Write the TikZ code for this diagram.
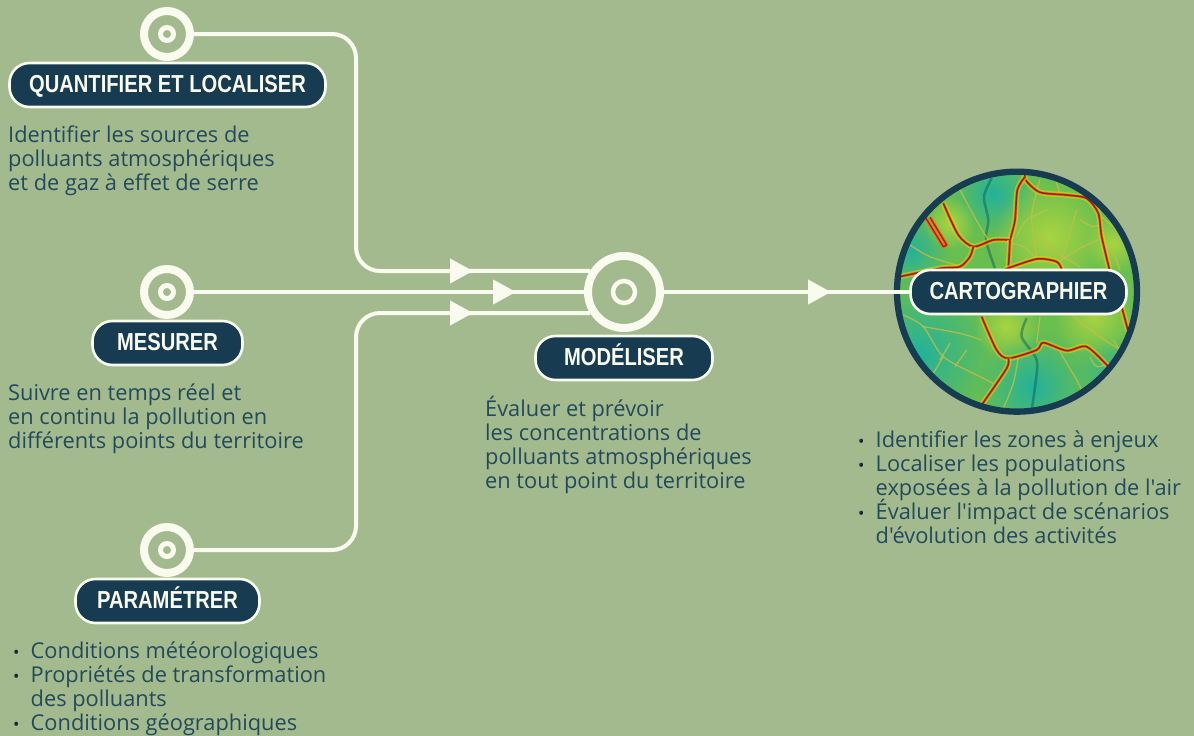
\documentclass[tikz,border=0pt]{standalone}
\usepackage{fontspec}
\newfontfamily\corpsfont{Open Sans}
\newfontfamily\titrefont[FakeStretch=0.82]{Liberation Sans}
\usetikzlibrary{arrows.meta,fadings}
\setlength{\normallineskiplimit}{-20pt}
\setlength{\lineskiplimit}{-20pt}
\definecolor{fond}{HTML}{A2BA8D}
\definecolor{creme}{HTML}{FAFBEF}
\definecolor{marine}{HTML}{173B50}
\definecolor{texte}{HTML}{234A5C}
\definecolor{vert}{RGB}{105,190,80}
\definecolor{clair}{RGB}{170,212,65}
\definecolor{lagon}{RGB}{35,178,155}
\definecolor{rouille}{RGB}{165,25,25}
\definecolor{olive}{RGB}{195,190,70}
\tikzfading[name=tache,inner color=transparent!0,outer color=transparent!100]
\tikzset{
 titre/.style={draw=creme,line width=2.6pt,fill=marine,rounded corners=20pt,minimum height=44pt,inner sep=0pt,text=creme,text height=14.5pt,text depth=0pt,font=\titrefont\bfseries\fontsize{24.6}{28}\selectfont},
 bague/.style={circle,draw=creme,line width=8pt,fill=fond,minimum size=46pt,inner sep=0pt},
 oeil/.style={circle,draw=creme,line width=5pt,minimum size=13pt,inner sep=0pt},
 flux/.style={draw=creme,line width=4pt},
 fleche/.style={flux,-{Triangle[length=23pt,width=24pt,fill=creme]}},
 corps/.style={anchor=north west,align=left,inner sep=0pt,text=texte,font=\corpsfont\fontsize{21.8}{23.85}\selectfont},
 tache/.style={path fading=tache,fit fading=true}
}
\newcommand{\puce}{\makebox[22.5pt][l]{\hspace*{5pt}\textcolor{marine!70!black}{\fontsize{17}{17}\selectfont\textbullet}}}
\newcommand{\suite}{\hspace*{22.5pt}}
% axe principal : halo, orange, coeur rouge
\newcommand{\route}[1]{
 \draw[line width=5.5pt,yellow!80!green,opacity=0.55] plot[smooth,tension=0.45] coordinates {#1};
 \draw[line width=2.8pt,orange!75!red,opacity=0.8] plot[smooth,tension=0.45] coordinates {#1};
 \draw[line width=1.5pt,rouille] plot[smooth,tension=0.45] coordinates {#1};
}
% route secondaire
\newcommand{\ruelle}[1]{
 \draw[line width=1.3pt,olive,opacity=0.8] plot[smooth,tension=0.5] coordinates {#1};
}
\begin{document}
\begin{tikzpicture}[x=1pt,y=-1pt]
 \useasboundingbox[fill=fond] (0,0) rectangle (1194,736);
 % la carte
 \begin{scope}[shift={(880,160)},x=0.3333pt,y=-0.3333pt]
  \begin{scope}
   \clip (411,395) circle (362);
   \fill[vert] (0,0) rectangle (800,800);
   \fill[lagon,tache] (340,100) circle (130);
   \fill[lagon,tache] (90,270) circle (120);
   \fill[lagon,tache] (120,580) circle (220);
   \fill[lagon,tache] (460,680) circle (170);
   \fill[lagon!70!vert,tache] (690,640) circle (120);
   \fill[clair,tache] (510,230) circle (170);
   \fill[clair,tache] (640,470) circle (120);
   \fill[clair,tache] (210,190) circle (80);
   \fill[clair,tache] (380,500) circle (100);
   \fill[clair,tache] (700,250) circle (90);
   % cours d'eau
   \draw[line width=2.5pt,teal!70!black,opacity=0.45] plot[smooth] coordinates {(335,55) (312,110) (325,180) (318,240) (345,325)};
   \draw[line width=2.5pt,teal!70!black,opacity=0.45] plot[smooth] coordinates {(440,475) (425,530) (470,600) (465,680) (455,750)};
   % petites routes
   \ruelle{(665,235) (600,265) (545,300)}
   \ruelle{(480,60) (455,170) (470,290)}
   \ruelle{(240,90) (300,200) (330,245)}
   \ruelle{(395,250) (430,260) (470,295)}
   \ruelle{(590,150) (560,250) (545,300)}
   \ruelle{(700,200) (665,170)}
   \ruelle{(540,100) (520,40)}
   \ruelle{(90,255) (150,290) (245,320)}
   \ruelle{(480,230) (520,270) (600,320)}
   \ruelle{(720,330) (700,280) (665,240)}
   \ruelle{(410,230) (440,180) (500,150)}
   \ruelle{(600,180) (640,200) (665,190)}
   \ruelle{(70,465) (130,500) (190,590) (300,650) (340,670)}
   \ruelle{(130,500) (240,520) (305,540)}
   \ruelle{(190,590) (160,640)}
   \ruelle{(210,550) (180,600)}
   \ruelle{(260,570) (225,620)}
   \ruelle{(415,590) (400,670) (370,745)}
   \ruelle{(540,575) (590,660) (610,700)}
   \ruelle{(580,470) (660,530) (720,570)}
   \ruelle{(480,470) (470,550)}
   \ruelle{(630,590) (650,620) (690,610)}
   \ruelle{(120,640) (200,680) (280,730)}
   \ruelle{(700,540) (720,570) (745,590)}
   % grands axes
   \route{(435,40) (438,62) (480,97) (560,105) (620,115) (655,160) (665,230) (690,335)}
   \route{(725,440) (745,515)}
   \route{(435,50) (412,90) (405,180) (390,240)}
   \route{(390,240) (340,240) (280,260) (235,225) (190,130)}
   \route{(280,260) (270,290) (240,320) (180,325) (60,350)}
   \route{(390,240) (385,330)}
   \route{(375,328) (470,297) (530,305) (545,328)}
   \route{(305,470) (350,570) (385,595) (470,570) (490,548) (560,572) (620,560) (685,620)}
   \route{(385,595) (380,625) (305,735)}
   \draw[line width=3pt,orange!80!red,line join=round] (135,170) -- (190,260) -- (200,255) -- (150,172);
   \draw[line width=1.2pt,rouille,line join=round] (135,170) -- (190,260) -- (200,255) -- (150,172);
  \end{scope}
  \draw[marine,line width=6.3pt] (411,395) circle (360);
 \end{scope}
 % les noeuds
 \node[bague] (quantif) at (167,34) {};
 \node[oeil] (quantifoeil) at (167,34) {};
 \node[bague] (mesure) at (167,292) {};
 \node[oeil] (mesureoeil) at (167,292) {};
 \node[bague] (param) at (167,550) {};
 \node[oeil] (paramoeil) at (167,550) {};
 \node[bague,minimum size=72pt] (modele) at (624,292) {};
 \node[oeil,line width=4.5pt,minimum size=22pt] (modeleoeil) at (624,292) {};
 \node[titre,minimum width=316pt] (tquantif) at (167.5,85) {QUANTIFIER ET LOCALISER};
 \node[titre,minimum width=150pt] (tmesure) at (167.5,343) {MESURER};
 \node[titre,minimum width=184pt] (tparam) at (167.5,601) {PARAMÉTRER};
 \node[titre,minimum width=177pt] (tmodele) at (624,358) {MODÉLISER};
 \node[titre,minimum width=216pt] (tcarte) at (1018.5,292) {CARTOGRAPHIER};
 % les points de passage
 \coordinate (f1) at (473,271);
 \coordinate (f2) at (516,292);
 \coordinate (f3) at (473,313);
 \coordinate (f4) at (831,292);
 % les liaisons
 \draw[flux,rounded corners=24pt] (quantif.east) -- (356,34) -- (356,271) -- (f1);
 \draw[fleche] (440,271) -- (f1);
 \draw[flux] ([xshift=-8pt]f1) -- (modele.148);
 \draw[fleche] (mesure.east) -- (f2);
 \draw[flux] ([xshift=-8pt]f2) -- (modele.west);
 \draw[flux,rounded corners=24pt] (param.east) -- (356,550) -- (356,313) -- (f3);
 \draw[fleche] (440,313) -- (f3);
 \draw[flux] ([xshift=-8pt]f3) -- (modele.212);
 \draw[fleche] (modele.east) -- (f4);
 \draw[flux] ([xshift=-8pt]f4) -- (tcarte.west);
 % les textes
 \node[corps] (dquantif) at (8,126) {Identifier les sources de\\polluants atmosphériques\\et de gaz à effet de serre};
 \node[corps] (dmesure) at (8,384) {Suivre en temps réel et\\en continu la pollution en\\différents points du territoire};
 \node[corps] (dparam) at (8,642) {\puce Conditions météorologiques\\\puce Propriétés de transformation\\\suite des polluants\\\puce Conditions géographiques};
 \node[corps] (dmodele) at (485,396) {Évaluer et prévoir\\les concentrations de\\polluants atmosphériques\\en tout point du territoire};
 \node[corps] (dcarte) at (853,431) {\puce Identifier les zones à enjeux\\\puce Localiser les populations\\\suite exposées à la pollution de l'air\\\puce Évaluer l'impact de scénarios\\\suite d'évolution des activités};
\end{tikzpicture}
\end{document}
